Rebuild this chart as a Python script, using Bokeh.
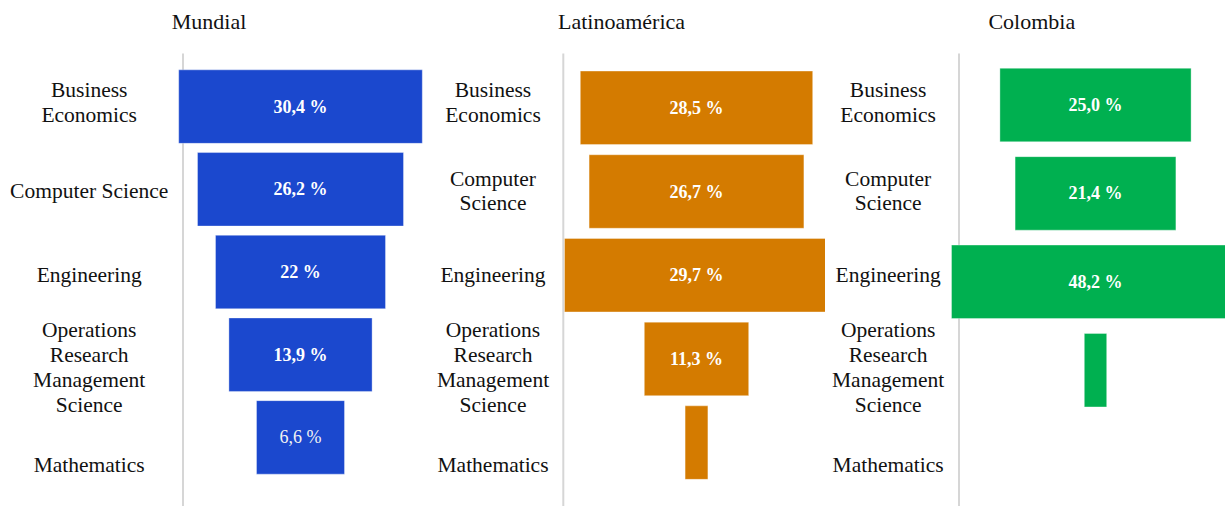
from bokeh.plotting import figure
from bokeh.layouts import row
from bokeh.models import Range1d, ColumnDataSource
from bokeh.core.properties import value
from bokeh.embed import file_html
from bokeh.resources import INLINE

# ---------------- data ----------------
titles = ["Mundial", "Latinoamérica", "Colombia"]

categories_mundial = ["Business\nEconomics", "Computer Science", "Engineering",
                      "Operations\nResearch\nManagement\nScience", "Mathematics"]
categories_other = ["Business\nEconomics", "Computer\nScience", "Engineering",
                    "Operations\nResearch\nManagement\nScience", "Mathematics"]

# funnel sizes (bar lengths)
mundial_values = [30.45, 25.75, 21.25, 17.9, 11.0]
latam_values = [29.05, 26.85, 33.0, 13.05, 2.85]
colombia_values = [23.9, 20.1, 36.0, 2.8, 0.0]

# percentage labels shown inside the bars
mundial_text = ["30,4 %", "26,2 %", "22 %", "13,9 %", "6,6 %"]
latam_text = ["28,5 %", "26,7 %", "29,7 %", "11,3 %", ""]
colombia_text = ["25,0 %", "21,4 %", "48,2 %", "", ""]

colors = ["#1B48CE", "#D47B00", "#00B050"]

# ---------------- layout constants (page pixels) ----------------
H = 506
PPU = 8.0          # pixels per funnel unit
BAR_H_PX = 73.5
LABEL_ROWS_PX = [102, 190.5, 274.5, 367, 464]   # vertical centres of category labels
FONT = value("Liberation Serif")

panels = [
    dict(left=0, width=425, center=300, row0=106.1, step=82.7, label_cx=88.7,
         line_x=182.5, title_cx=208.5),
    dict(left=425, width=400, center=696, row0=107.3, step=83.7, label_cx=492.5,
         line_x=562.8, title_cx=621),
    dict(left=825, width=400, center=1095, row0=104.5, step=88.4, label_cx=887.6,
         line_x=958.5, title_cx=1031.3),
]


def make_panel(spec, title, cats, vals, texts, color):
    c = spec["center"] - spec["left"]
    r0 = spec["row0"]
    s = spec["step"]
    W = spec["width"]

    def px_x(page_x):
        return (page_x - spec["left"] - c) / PPU

    def px_y(page_y):
        return (page_y - r0) / s

    p = figure(width=W, height=H, output_backend="svg", toolbar_location=None,
               x_axis_type=None, y_axis_type=None,
               x_range=Range1d(-c / PPU, (W - c) / PPU),
               y_range=Range1d((H - r0) / s, -r0 / s),
               min_border=0, outline_line_color=None,
               background_fill_color="white", border_fill_color="white")
    p.grid.visible = False

    # vertical axis line
    p.segment(x0=[px_x(spec["line_x"])], x1=[px_x(spec["line_x"])],
              y0=[px_y(53)], y1=[px_y(H + 5)],
              line_color="#D6D6D6", line_width=2)

    idx = list(range(len(vals)))
    src = ColumnDataSource(dict(
        y=idx,
        left=[-v / 2 for v in vals],
        right=[v / 2 for v in vals],
    ))
    p.hbar(y="y", left="left", right="right", height=BAR_H_PX / s, source=src,
           fill_color=color, line_color="white", line_alpha=0.35, line_width=1)

    bold = dict(x=[], y=[], t=[])
    normal = dict(x=[], y=[], t=[])
    for i, (v, t) in enumerate(zip(vals, texts)):
        if not t:
            continue
        d = bold if v * PPU >= 100 else normal
        d["x"].append(0)
        d["y"].append(i)
        d["t"].append(t)
    p.text(x="x", y="y", text="t", source=ColumnDataSource(bold),
           text_align="center", text_baseline="middle", text_font=FONT,
           text_font_size="18px", text_font_style="bold", text_color="white")
    p.text(x="x", y="y", text="t", source=ColumnDataSource(normal),
           text_align="center", text_baseline="middle", text_font=FONT,
           text_font_size="18px", text_color="#F2F2F2")

    # category labels
    lab_y = [px_y(v) for v in LABEL_ROWS_PX[:len(cats)]]
    p.text(x=[px_x(spec["label_cx"])] * len(cats), y=lab_y, text=cats,
           text_align="center", text_baseline="middle", text_font=FONT,
           text_font_size="21.5px", text_color="#111111", text_line_height=1.03)

    # title
    p.text(x=[px_x(spec["title_cx"])], y=[px_y(21)], text=[title],
           text_align="center", text_baseline="middle", text_font=FONT,
           text_font_size="22px", text_color="#111111")
    return p


p1 = make_panel(panels[0], titles[0], categories_mundial, mundial_values, mundial_text, colors[0])
p2 = make_panel(panels[1], titles[1], categories_other, latam_values, latam_text, colors[1])
p3 = make_panel(panels[2], titles[2], categories_other, colombia_values, colombia_text, colors[2])

layout = row(p1, p2, p3, spacing=0)
open("out.html", "w").write(file_html(layout, INLINE))
